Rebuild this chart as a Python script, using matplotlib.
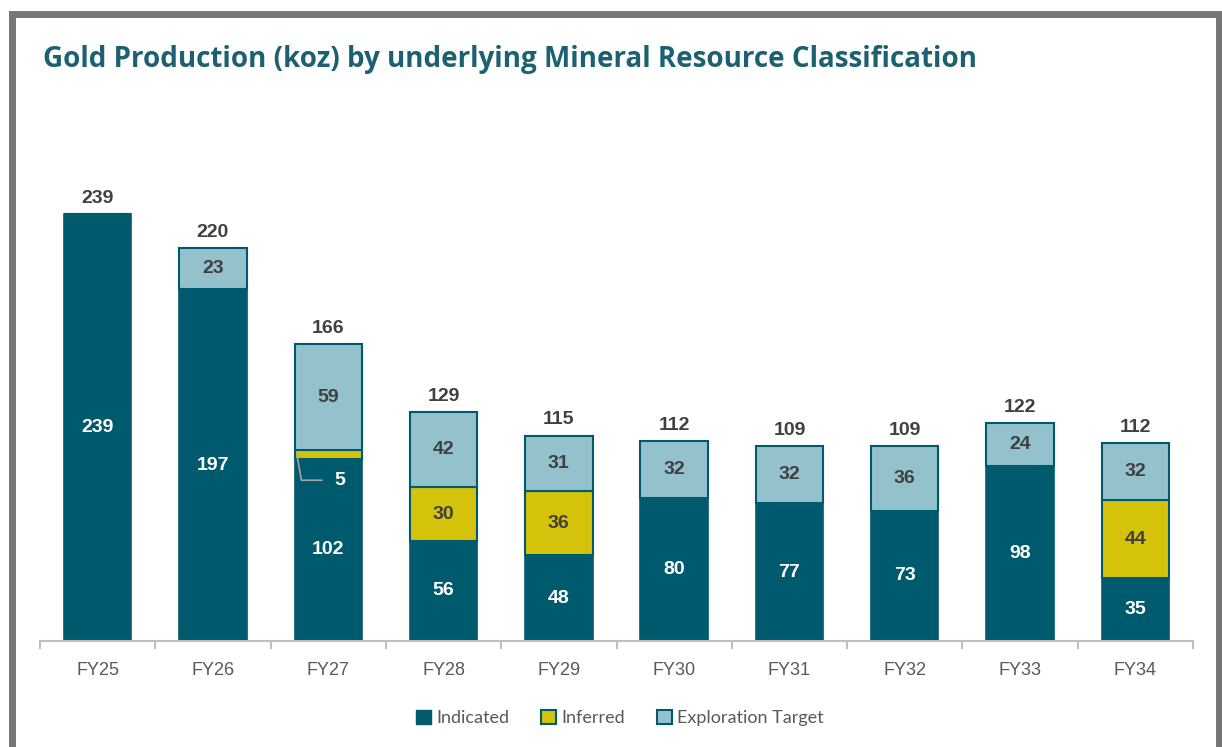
import numpy as np
import matplotlib.pyplot as plt
from matplotlib.patches import Patch, Rectangle

# --- datos
years = ['FY25', 'FY26', 'FY27', 'FY28', 'FY29', 'FY30', 'FY31', 'FY32', 'FY33', 'FY34']
indicated = [239, 197, 102, 56, 48, 80, 77, 73, 98, 35]
inferred = [0, 0, 5, 30, 36, 0, 0, 0, 0, 44]
exploration = [0, 23, 59, 42, 31, 32, 32, 36, 24, 32]
totals = [239, 220, 166, 129, 115, 112, 109, 109, 122, 112]

# --- colores
c_ind = '#005A6E'
c_inf = '#D4C30A'
c_exp = '#93C2CD'
c_txt = '#404040'

fig = plt.figure(figsize=(12.22, 7.47), dpi=100)
ax = fig.add_axes([40/1222, 1-641/747, 1153/1222, (641-173)/747])

x = np.arange(len(years))
ind = np.array(indicated)
inf = np.array(inferred)
exp = np.array(exploration)
w = 0.585

ax.bar(x, ind, w, color=c_ind, edgecolor=c_ind, linewidth=1.2)
ax.bar(x, inf, w, bottom=ind, color=c_inf, edgecolor=c_ind, linewidth=1.5)
ax.bar(x, exp, w, bottom=ind+inf, color=c_exp, edgecolor=c_ind, linewidth=1.5)

lab = dict(ha='center', va='center', fontsize=14, fontweight='bold', family='Liberation Sans')
for i in range(len(years)):
    ax.text(x[i], ind[i]/2, str(indicated[i]), color='white', **lab)
    if inf[i] >= 10:
        ax.text(x[i], ind[i]+inf[i]/2, str(inferred[i]), color=c_txt, **lab)
    elif inf[i] > 0:
        # etiqueta con linea guia (FY27)
        ax.annotate(str(inferred[i]), xy=(x[i]-w/2+0.02, ind[i]+inf[i]/2),
                    xytext=(x[i]+0.1, ind[i]-12), color='white',
                    arrowprops=dict(arrowstyle='-', color='#A6A6A6', lw=1.2,
                                    connectionstyle='angle,angleA=0,angleB=-80,rad=0',
                                    shrinkA=7, shrinkB=0),
                    **lab)
    if exp[i] > 0:
        ax.text(x[i], ind[i]+inf[i]+exp[i]/2, str(exploration[i]), color=c_txt, **lab)
    ax.text(x[i], ind[i]+inf[i]+exp[i]+4, str(totals[i]), color=c_txt,
            ha='center', va='bottom', fontsize=14, fontweight='bold', family='Liberation Sans')

ax.set_xlim(-0.5, len(years)-0.5)
ax.set_ylim(0, 262)
ax.set_yticks([])
for s in ['top', 'right', 'left']:
    ax.spines[s].set_visible(False)
ax.spines['bottom'].set_color('#BFBFBF')
ax.spines['bottom'].set_linewidth(1.5)
ax.set_xticks(x)
ax.set_xticklabels(years, fontsize=13, color='#595959', family='Liberation Sans')
ax.tick_params(axis='x', which='major', length=0, pad=15)
ax.set_xticks(np.arange(-0.5, len(years)), minor=True)
ax.tick_params(axis='x', which='minor', length=6, width=1.5, color='#BFBFBF')

fig.text(43/1222, 1-60/747, 'Gold Production (koz) by underlying Mineral Resource Classification',
         fontsize=20, fontweight='bold', color='#1B6172', family='Open Sans', va='center', ha='left')

handles = [Patch(facecolor=c_ind, edgecolor=c_ind, label='Indicated'),
           Patch(facecolor=c_inf, edgecolor=c_ind, linewidth=1.5, label='Inferred'),
           Patch(facecolor=c_exp, edgecolor=c_ind, linewidth=1.5, label='Exploration Target')]
leg = fig.legend(handles=handles, loc='center', bbox_to_anchor=(620/1222, 1-718/747), ncol=3,
                 frameon=False, handlelength=0.8, handleheight=0.8, handletextpad=0.3,
                 columnspacing=1.8, prop={'family': 'Lato', 'size': 13})
for t in leg.get_texts():
    t.set_color('#595959')

# marco gris
fig.patches.append(Rectangle((12/1222, -0.05), 1207/1222, 1.05-14/747, transform=fig.transFigure,
                             fill=False, edgecolor='#767676', linewidth=5))

fig.savefig('out.png', dpi=100)
